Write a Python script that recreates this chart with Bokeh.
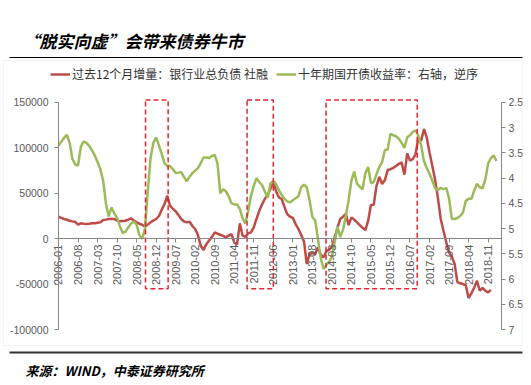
import numpy as np
from bokeh.plotting import figure
from bokeh.models import (Range1d, LinearAxis, FixedTicker, NumeralTickFormatter,
                          Legend, LegendItem, ColumnDataSource, Label, BoxAnnotation)
from bokeh.embed import file_html
from bokeh.resources import INLINE

# ---------------- data ----------------
start_year, start_month = 2006, 1
title_text = "“脱实向虚”会带来债券牛市"
source_text = "来源：WIND，中泰证券研究所"
red_label = "过去12个月增量：银行业总负债 社融"
green_label = "十年期国开债收益率：右轴，逆序"

tick_labels = ["2006-01", "2006-08", "2007-03", "2007-10", "2008-05", "2008-12",
               "2009-07", "2010-02", "2010-09", "2011-04", "2011-11", "2012-06",
               "2013-01", "2013-08", "2014-03", "2014-10", "2015-05", "2015-12",
               "2016-07", "2017-02", "2017-09", "2018-04", "2018-11"]
left_ticks = [-100000, -50000, 0, 50000, 100000, 150000]
right_ticks = [2.5, 3, 3.5, 4, 4.5, 5, 5.5, 6, 6.5, 7]

# 过去12个月增量 (left axis), monthly from 2006-01
red = [
    24200, 23000, 21700, 20800, 19800, 19100, 18500, 15400, 16900, 16500,
    16200, 16500, 16900, 17000, 17500, 18000, 20600, 21000, 21700, 21700,
    21700, 20000, 19100, 19500, 19800, 21000, 22400, 20000, 18000, 16500,
    15400, 13200, 15500, 18000, 20000, 21700, 25000, 32000, 38000, 47300,
    36300, 33000, 30100, 26000, 21700, 19000, 18000, 18700, 14000, 10700,
    4000, -8000, -12500, -6000, -2000, 2000, 7000, 5500, 4400, 3000,
    1500, 3500, 5100, -4000, -6600, 16900, 3300, 2000, 6000, 7000,
    12500, 22000, 31000, 38000, 44000, 48400, 55000, 63100, 52000, 45500,
    43700, 35000, 27000, 24200, 23000, 16000, 10700, 4000, -3000, -27900,
    -16900, -15800, -16900, -9500, -17500, -20500, -14000, -12000, -9500, 1500,
    12000, 21700, 24200, 27200, 15000, 23500, 21000, 18000, 15000, 12000,
    9500, 19800, 37100, 37400, 58300, 68200, 60200, 64600, 75600, 76500,
    78000, 80000, 82500, 84000, 70500, 93900, 86000, 87700, 93000, 111500,
    107900, 120800, 111500, 95000, 80000, 65000, 45000, 22000, 8800, -4000,
    -15000, -19800, -27900, -48100, -49000, -49900, -51400, -65300, -60200, -54000,
    -46200, -57300, -54300, -57300, -59100, -56500, None, None]

# 十年期国开债收益率 (right axis, reversed), monthly from 2006-01
green = [
    3.35, 3.28, 3.20, 3.14, 3.30, 3.62, 3.73, 3.75, 3.38, 3.27,
    3.30, 3.36, 3.45, 3.55, 3.68, 3.82, 4.05, 4.50, 4.76, 4.58,
    4.70, 4.79, 4.95, 5.09, 5.06, 4.98, 4.90, 4.86, 4.92, 5.13,
    5.20, 5.00, 4.25, 3.60, 3.30, 3.19, 3.35, 3.52, 3.70, 3.76,
    3.76, 3.82, 3.90, 3.89, 3.88, 3.98, 4.06, 3.97, 3.90, 3.85,
    3.80, 3.70, 3.59, 3.59, 3.60, 3.56, 3.54, 3.71, 4.30, 4.22,
    4.26, 4.36, 4.50, 4.52, 4.52, 4.61, 4.80, 4.90, 4.65, 4.35,
    4.15, 4.00, 4.08, 4.14, 4.27, 4.39, 4.10, 4.06, 4.12, 4.24,
    4.33, 4.41, 4.46, 4.48, 4.44, 4.40, 4.36, 4.18, 4.13, 4.18,
    4.44, 4.77, 4.84, 5.20, 5.58, 5.80, 5.72, 5.66, 5.56, 5.27,
    4.96, 5.17, 5.02, 4.75, 4.44, 4.05, 3.87, 4.11, 4.17, 4.22,
    3.90, 3.78, 4.10, 4.08, 3.92, 3.78, 3.68, 3.44, 3.43, 3.12,
    3.15, 3.17, 3.22, 3.30, 3.40, 3.19, 3.15, 3.08, 3.05, 3.16,
    3.35, 3.66, 3.80, 3.91, 4.05, 4.20, 4.24, 4.19, 4.22, 4.19,
    4.40, 4.81, 4.81, 4.79, 4.75, 4.68, 4.45, 4.41, 4.41, 4.25,
    4.11, 4.18, 4.20, 4.03, 3.71, 3.60, 3.55, 3.66]

# highlighted periods (month index from 2006-01) and their vertical extent
box_start = [31.2, 67.6, 95.9]
box_end = [39.3, 77.0, 128.6]
box_bottom = [-55000, -55000, -55000]
box_top = [152800, 152800, 152800]

# ---------------- layout (pixels) ----------------
W, H = 531, 385
PX_L, PX_R = 58, 501          # left / right axis position
PX_T, PX_B = 98, 329          # top / bottom of plotting area
X0, X1 = 0, 158.8             # months at left / right axis
Y0, Y1 = -100000, 154400      # left-axis values at bottom / top

sx = (X1 - X0) / (PX_R - PX_L)
sy = (Y1 - Y0) / (PX_B - PX_T)
x_range = Range1d(X0 - PX_L * sx, X1 + (W - PX_R) * sx)
y_range = Range1d(Y0 - (H - PX_B) * sy, Y1 + PX_T * sy)

def to_right(v):  # left-axis value -> right-axis value (reversed)
    return right_ticks[-1] - (v - left_ticks[0]) * (right_ticks[-1] - right_ticks[0]) / (left_ticks[-1] - left_ticks[0])

def month_index(label):
    y, m = label.split("-")
    return (int(y) - start_year) * 12 + int(m) - start_month

x = np.arange(len(green))
src = ColumnDataSource(dict(x=x, red=np.array(red, dtype=float),
                            green=np.array(green, dtype=float)))

TICK_FONT = "Liberation Sans"
TICK_COLOR = "#595959"
AXIS_COLOR = "#868686"
CJK = "Noto Sans CJK SC"

p = figure(width=W, height=H, x_range=x_range, y_range=y_range,
           output_backend="svg", toolbar_location=None,
           min_border_left=0, min_border_right=0, min_border_top=0, min_border_bottom=0)
p.outline_line_color = None
p.xgrid.visible = False
p.ygrid.visible = False
p.background_fill_color = "white"
p.border_fill_color = "white"
p.extra_y_ranges = {"yld": Range1d(start=to_right(y_range.start), end=to_right(y_range.end))}

# faint outer frame and the two rules
def sbox(**kw):
    return BoxAnnotation(left_units="screen", right_units="screen",
                         top_units="screen", bottom_units="screen", **kw)

p.add_layout(sbox(left=3, right=522, top=H - 60, bottom=H - 345,
                  fill_alpha=0, line_color="#D9D9D9", line_width=1))
p.add_layout(sbox(left=9, right=522, top=H - 56.5, bottom=H - 57.5,
                  fill_color="#000000", fill_alpha=1, line_alpha=0))
p.add_layout(sbox(left=9, right=522, top=H - 351, bottom=H - 353,
                  fill_color="#333333", fill_alpha=1, line_alpha=0))

r_red = p.line("x", "red", source=src, line_color="#BE4B48", line_width=2.5)
r_green = p.line("x", "green", source=src, y_range_name="yld", line_color="#9BBB59", line_width=2.5)

p.quad(left=box_start, right=box_end, bottom=box_bottom, top=box_top,
       fill_alpha=0, line_color="#E3262F", line_dash="5 3", line_width=1.5)

def style_axis(ax, size, standoff):
    ax.minor_tick_line_color = None
    ax.major_tick_in = 0
    ax.major_tick_out = 4
    ax.axis_line_color = AXIS_COLOR
    ax.major_tick_line_color = AXIS_COLOR
    ax.major_label_text_font = TICK_FONT
    ax.major_label_text_font_size = size
    ax.major_label_text_color = TICK_COLOR
    ax.major_label_standoff = standoff

# x axis along y = 0
xa = p.xaxis[0]
xa.fixed_location = 0
xa.bounds = (X0, X1)
xa.ticker = FixedTicker(ticks=[month_index(t) for t in tick_labels])
xa.major_label_overrides = {month_index(t): t for t in tick_labels}
xa.major_label_orientation = np.pi / 2
style_axis(xa, "11px", 2)

ya = p.yaxis[0]
ya.fixed_location = X0
ya.ticker = FixedTicker(ticks=left_ticks)
ya.formatter = NumeralTickFormatter(format="0")
ya.bounds = (left_ticks[0], left_ticks[-1])
style_axis(ya, "10.5px", 6)

ra = LinearAxis(y_range_name="yld", ticker=FixedTicker(ticks=right_ticks),
                formatter=NumeralTickFormatter(format="0.[0]"), fixed_location=X1)
ra.bounds = (right_ticks[0], right_ticks[-1])
style_axis(ra, "10.5px", 3)
p.add_layout(ra, "right")

legend = Legend(items=[LegendItem(label=red_label, renderers=[r_red]),
                       LegendItem(label=green_label, renderers=[r_green])],
                orientation="horizontal", location=(50, H - 82),
                padding=0, margin=0, spacing=8, glyph_width=20, glyph_height=14,
                label_standoff=2, label_height=14,
                label_text_font=CJK, label_text_font_size="12px",
                label_text_color="#333333",
                border_line_alpha=0, background_fill_alpha=0)
p.add_layout(legend, "center")

p.add_layout(Label(x=22, y=H - 40, x_units="screen", y_units="screen", text=title_text,
                   text_font=CJK, text_font_size="17px", text_font_style="bold italic",
                   text_color="#000000", text_baseline="middle", text_align="left"))
p.add_layout(Label(x=25, y=H - 370, x_units="screen", y_units="screen", text=source_text,
                   text_font=CJK, text_font_size="13px", text_font_style="bold italic",
                   text_color="#000000", text_baseline="middle", text_align="left"))

with open("out.html", "w") as f:
    f.write(file_html(p, INLINE))
